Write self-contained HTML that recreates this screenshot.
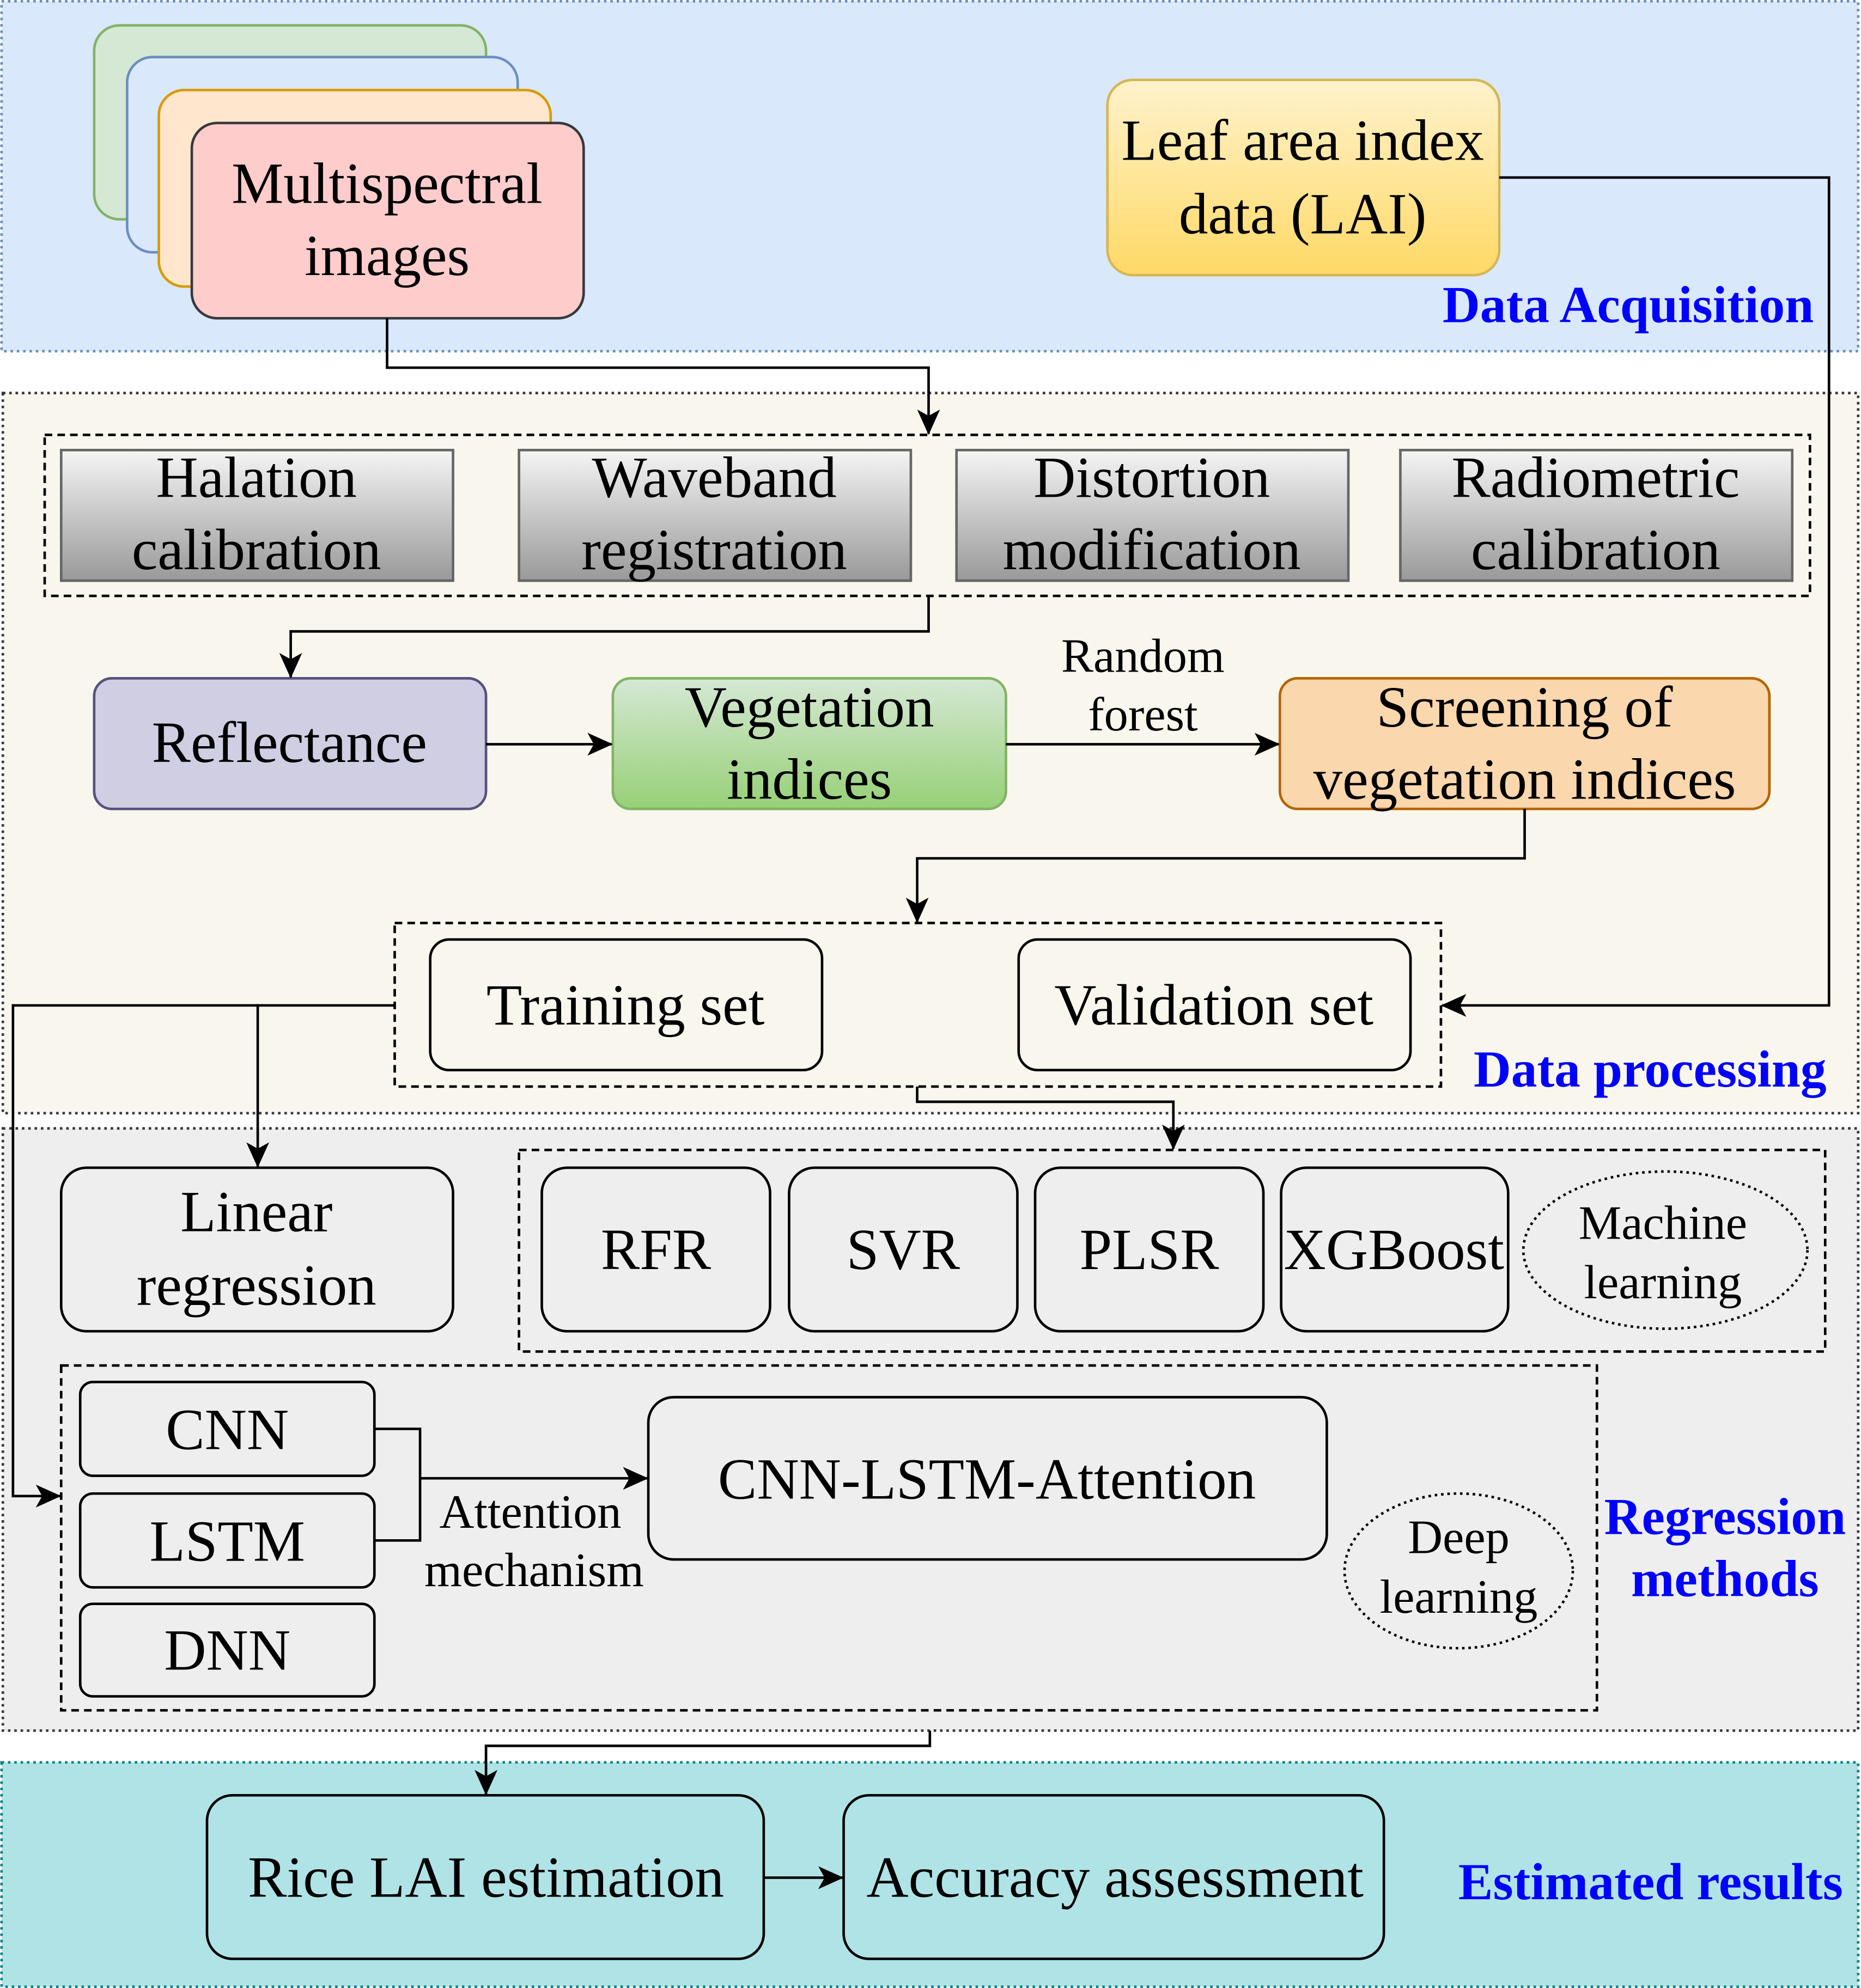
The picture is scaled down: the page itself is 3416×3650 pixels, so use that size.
<!DOCTYPE html>
<html><head><meta charset="utf-8"><style>html,body{margin:0;padding:0;background:#fff}svg{display:block}</style></head>
<body>
<svg xmlns="http://www.w3.org/2000/svg" width="3416" height="3650" viewBox="0 0 1467 1568" font-family="'Liberation Serif', serif">
<defs>
<linearGradient id="gy" x1="0" y1="0" x2="0" y2="1"><stop offset="0" stop-color="#f5f5f5"/><stop offset="1" stop-color="#999"/></linearGradient>
<linearGradient id="yl" x1="0" y1="0" x2="0" y2="1"><stop offset="0" stop-color="#fff2cc"/><stop offset="1" stop-color="#ffd966"/></linearGradient>
<linearGradient id="gr" x1="0" y1="0" x2="0" y2="1"><stop offset="0" stop-color="#d5e8d4"/><stop offset="1" stop-color="#97d077"/></linearGradient>
<marker id="a" markerWidth="20" markerHeight="18" refX="19" refY="9" orient="auto" markerUnits="userSpaceOnUse"><path d="M0,0 L20,9 L0,18 L5,9 z" fill="#000"/></marker>
</defs>
<rect x="1" y="1" width="1464" height="276" fill="#dae8fc" stroke="#6c8ebf" stroke-width="2" stroke-dasharray="2 3"/>
<rect x="2" y="310" width="1463" height="568" fill="#f9f7ed" stroke="#36393d" stroke-width="2" stroke-dasharray="2 3"/>
<rect x="2" y="890" width="1463" height="475" fill="#eeeeee" stroke="#36393d" stroke-width="2" stroke-dasharray="2 3"/>
<rect x="1" y="1390" width="1464" height="177" fill="#b0e3e6" stroke="#0e8088" stroke-width="2" stroke-dasharray="2 3"/>
<g stroke-width="2">
<rect x="74" y="20" width="309" height="153" rx="20" fill="#d5e8d4" stroke="#82b366"/>
<rect x="100" y="45" width="308" height="154" rx="20" fill="#dae8fc" stroke="#6c8ebf"/>
<rect x="125" y="71" width="309" height="155" rx="20" fill="#ffe6cc" stroke="#d79b00"/>
<rect x="151" y="97" width="309" height="154" rx="20" fill="#ffcccc" stroke="#36393d"/>
<rect x="873" y="63" width="309" height="154" rx="20" fill="url(#yl)" stroke="#d6b656"/>
</g>
<g font-size="46" text-anchor="middle" fill="#000">
<text x="305" y="160">Multispectral</text><text x="305" y="217">images</text>
<text x="1027" y="126">Leaf area index</text><text x="1027" y="184">data (LAI)</text>
</g>
<g font-size="41" font-weight="bold" fill="#0000ff" text-anchor="end">
<text x="1430" y="254">Data Acquisition</text>
<text x="1440" y="857">Data processing</text>
<text x="1453" y="1498">Estimated results</text>
</g>
<g font-size="41" font-weight="bold" fill="#0000ff" text-anchor="middle">
<text x="1360" y="1210">Regression</text><text x="1360" y="1259">methods</text>
</g>
<rect x="35" y="343" width="1392" height="127" fill="none" stroke="#000" stroke-width="2" stroke-dasharray="6 4"/>
<g fill="url(#gy)" stroke="#666" stroke-width="2">
<rect x="48" y="355" width="309" height="103"/><rect x="409" y="355" width="309" height="103"/>
<rect x="754" y="355" width="309" height="103"/><rect x="1104" y="355" width="309" height="103"/>
</g>
<g font-size="46" text-anchor="middle">
<text x="202" y="392">Halation</text><text x="202" y="449">calibration</text>
<text x="563" y="392">Waveband</text><text x="563" y="449">registration</text>
<text x="908" y="392">Distortion</text><text x="908" y="449">modification</text>
<text x="1258" y="392">Radiometric</text><text x="1258" y="449">calibration</text>
</g>
<g stroke-width="2">
<rect x="74" y="535" width="309" height="103" rx="14" fill="#d0cee2" stroke="#56517e"/>
<rect x="483" y="535" width="310" height="103" rx="14" fill="url(#gr)" stroke="#82b366"/>
<rect x="1009" y="535" width="386" height="103" rx="14" fill="#fad7ac" stroke="#b46504"/>
</g>
<g font-size="46" text-anchor="middle">
<text x="228" y="601">Reflectance</text>
<text x="638" y="573">Vegetation</text><text x="638" y="630">indices</text>
<text x="1202" y="573">Screening of</text><text x="1202" y="630">vegetation indices</text>
</g>
<g font-size="38" text-anchor="middle"><text x="901" y="530">Random</text><text x="901" y="576">forest</text></g>
<rect x="311" y="728" width="825" height="129" fill="none" stroke="#000" stroke-width="2" stroke-dasharray="6 4"/>
<g fill="#f9f7ed" stroke="#000" stroke-width="2">
<rect x="339" y="741" width="309" height="103" rx="15"/><rect x="803" y="741" width="309" height="103" rx="15"/>
</g>
<g font-size="46" text-anchor="middle"><text x="493" y="808">Training set</text><text x="957" y="808">Validation set</text></g>
<rect x="409" y="907" width="1030" height="159" fill="none" stroke="#000" stroke-width="2" stroke-dasharray="6 4"/>
<rect x="48" y="1077" width="1211" height="272" fill="none" stroke="#000" stroke-width="2" stroke-dasharray="6 4"/>
<g fill="#eeeeee" stroke="#000" stroke-width="2">
<rect x="48" y="921" width="309" height="129" rx="20"/>
<rect x="427" y="921" width="180" height="129" rx="20"/><rect x="622" y="921" width="180" height="129" rx="20"/>
<rect x="816" y="921" width="180" height="129" rx="20"/><rect x="1010" y="921" width="179" height="129" rx="20"/>
<rect x="63" y="1090" width="232" height="74" rx="10"/><rect x="63" y="1178" width="232" height="74" rx="10"/>
<rect x="63" y="1265" width="232" height="73" rx="10"/>
<rect x="511" y="1102" width="535" height="128" rx="20"/>
</g>
<g fill="none" stroke="#000" stroke-width="2" stroke-dasharray="2 3">
<ellipse cx="1313" cy="986" rx="112" ry="62"/><ellipse cx="1150" cy="1239" rx="90" ry="61"/>
</g>
<g font-size="46" text-anchor="middle">
<text x="202" y="971">Linear</text><text x="202" y="1029">regression</text>
<text x="517" y="1001">RFR</text><text x="712" y="1001">SVR</text><text x="906" y="1001">PLSR</text><text x="1099" y="1001">XGBoost</text>
<text x="179" y="1143">CNN</text><text x="179" y="1231">LSTM</text><text x="179" y="1317">DNN</text>
<text x="778" y="1182">CNN-LSTM-Attention</text>
</g>
<g font-size="38" text-anchor="middle">
<text x="1311" y="977">Machine</text><text x="1311" y="1024">learning</text>
<text x="1150" y="1225">Deep</text><text x="1150" y="1272">learning</text>
<text x="418" y="1205">Attention</text><text x="421" y="1251">mechanism</text>
</g>
<g fill="#b0e3e6" stroke="#000" stroke-width="2">
<rect x="163" y="1416" width="439" height="129" rx="20"/><rect x="665" y="1416" width="426" height="129" rx="20"/>
</g>
<g font-size="46" text-anchor="middle"><text x="383" y="1496">Rice LAI estimation</text><text x="879" y="1496">Accuracy assessment</text></g>
<g fill="none" stroke="#000" stroke-width="2" marker-end="url(#a)">
<path d="M305 251 V290 H732 V342"/>
<path d="M732 470 V498 H229 V534"/>
<path d="M383 587 H482"/>
<path d="M793 587 H1008"/>
<path d="M1202 638 V677 H723 V727"/>
<path d="M1182 140 H1442 V793 H1137"/>
<path d="M311 793 H203 V920"/>
<path d="M203 793 H10 V1180 H47"/>
<path d="M723 857 V869 H925 V906"/>
<path d="M331 1166 H510"/>
<path d="M733 1365 V1377 H383 V1415"/>
<path d="M602 1481 H664"/>
</g>
<path d="M295 1127 H331 V1215 H295" fill="none" stroke="#000" stroke-width="2"/>
</svg>
</body></html>
